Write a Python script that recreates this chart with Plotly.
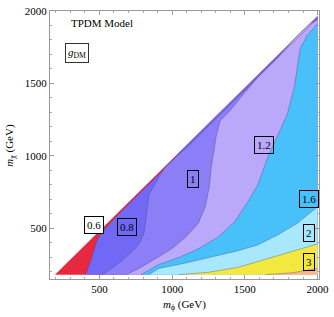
import plotly.graph_objects as go

# ---- data (m_phi, m_chi in GeV) ----
diag_phi = [194, 2000]
diag_chi = [180, 1966]

c06_phi = [405, 440, 466, 487, 510, 568, 700, 850, 1000, 1058]
c06_chi = [180, 277, 365, 426, 462, 530, 666, 815, 965, 1034]

c08_phi = [520, 602, 670, 731, 772, 806, 820, 840, 888, 956, 1100, 1400, 1700, 1900, 2000]
c08_chi = [180, 236, 290, 345, 392, 466, 568, 730, 818, 932, 1056, 1353, 1651, 1852, 1950]

c10_phi = [684, 772, 908, 997, 1092, 1180, 1228, 1255, 1269, 1289, 1303, 1330, 1398, 1473, 1588, 1724, 1861, 1949, 2000]
c10_chi = [180, 223, 304, 358, 439, 534, 649, 784, 919, 1054, 1135, 1243, 1311, 1405, 1541, 1676, 1831, 1912, 1939]

c12_phi = [786, 908, 1044, 1180, 1316, 1432, 1520, 1588, 1656, 1724, 1793, 1840, 1861, 1881, 1929, 2000]
c12_chi = [180, 250, 297, 358, 439, 547, 682, 797, 986, 1135, 1291, 1473, 1628, 1743, 1831, 1912]

c16_phi = [840, 908, 1078, 1248, 1452, 1588, 1724, 1861, 2000]
c16_chi = [180, 223, 257, 297, 345, 385, 453, 534, 649]

c20_phi = [1044, 1248, 1452, 1677, 1861, 2000]
c20_chi = [180, 196, 230, 297, 351, 392]

c30_phi = [1643, 1827, 2000]
c30_chi = [180, 193, 223]

level_labels = ["0.6", "0.8", "1", "1.2", "1.6", "2", "3"]
label_phi = [466, 690, 1146, 1629, 1942, 1942, 1942]
label_chi = [520, 507, 838, 1074, 703, 466, 270]

x_ticks = [500, 1000, 1500, 2000]
y_ticks = [500, 1000, 1500, 2000]

# ---- styles ----
base_color = "rgb(232,40,62)"
region_colors = [
    "rgb(114,104,246)",  # 0.6-0.8
    "rgb(140,126,246)",  # 0.8-1
    "rgb(186,168,250)",  # 1-1.2
    "rgb(72,192,250)",   # 1.2-1.6
    "rgb(168,232,252)",  # 1.6-2
    "rgb(242,232,64)",   # 2-3
    "rgb(246,184,140)",  # >3
]
line_color = "rgba(70,70,110,0.55)"
FONT = "Liberation Serif, Times New Roman, serif"

fig = go.Figure()

fig.add_trace(go.Scatter(
    x=[diag_phi[0], diag_phi[1], diag_phi[1], diag_phi[0]],
    y=[diag_chi[0], diag_chi[1], diag_chi[0], diag_chi[0]],
    fill="toself", fillcolor=base_color, mode="lines",
    line=dict(width=0), hoverinfo="skip", showlegend=False))

curves = [(c06_phi, c06_chi), (c08_phi, c08_chi), (c10_phi, c10_chi),
          (c12_phi, c12_chi), (c16_phi, c16_chi), (c20_phi, c20_chi),
          (c30_phi, c30_chi)]

for (px, py), col in zip(curves, region_colors):
    xs = list(px)
    ys = list(py)
    if xs[-1] < diag_phi[1]:
        xs.append(diag_phi[1])
        ys.append(diag_chi[1])
    xs += [diag_phi[1], xs[0]]
    ys += [diag_chi[0], ys[0]]
    fig.add_trace(go.Scatter(
        x=xs, y=ys, fill="toself", fillcolor=col, mode="lines",
        line=dict(width=0), hoverinfo="skip", showlegend=False))

for px, py in curves:
    fig.add_trace(go.Scatter(
        x=px, y=py, mode="lines", line=dict(color=line_color, width=0.7),
        hoverinfo="skip", showlegend=False))

for i, (t, lx, ly) in enumerate(zip(level_labels, label_phi, label_chi)):
    fig.add_annotation(
        x=lx, y=ly, text=t, showarrow=False,
        font=dict(family=FONT, size=11, color="black"),
        bordercolor="black", borderwidth=1, borderpad=2,
        bgcolor="white" if i == 0 else "rgba(0,0,0,0)")

fig.add_annotation(x=520, y=1919, text="TPDM Model", showarrow=False,
                   font=dict(family=FONT, size=11, color="black"))
fig.add_annotation(x=344, y=1709, text="<i>g</i><sub>DM</sub>", showarrow=False,
                   font=dict(family=FONT, size=11, color="black"),
                   bordercolor="#333333", borderwidth=1, borderpad=2,
                   bgcolor="white")

fig.add_annotation(x=0.5, y=-0.065, xref="paper", yref="paper",
                   text="<i>m</i><sub>ϕ</sub> (GeV)", showarrow=False,
                   xanchor="center", yanchor="top",
                   font=dict(family=FONT, size=11, color="black"))
fig.add_annotation(x=-0.15, y=0.5, xref="paper", yref="paper",
                   text="<i>m</i><sub>χ</sub> (GeV)", showarrow=False,
                   textangle=-90, xanchor="center", yanchor="middle",
                   font=dict(family=FONT, size=11, color="black"))

axis_common = dict(
    showgrid=False, zeroline=False, showline=True, linecolor="#999999",
    linewidth=1, mirror="allticks", ticks="inside", ticklen=4,
    tickcolor="#999999", tickwidth=1, ticklabeloverflow="allow",
    tickfont=dict(family=FONT, size=11, color="black"),
    minor=dict(ticks="inside", ticklen=2, dtick=100, tickcolor="#aaaaaa"),
)

fig.update_xaxes(range=[160, 2010], tickvals=x_ticks,
                 ticktext=[str(v) for v in x_ticks], **axis_common)
fig.update_yaxes(range=[150, 2000], tickvals=y_ticks,
                 ticktext=[str(v) for v in y_ticks], **axis_common)

fig.update_layout(
    width=334, height=317,
    margin=dict(l=50, r=12, t=5, b=38),
    plot_bgcolor="white", paper_bgcolor="white",
    showlegend=False,
)

fig.write_html("out.html", config={"displayModeBar": False, "staticPlot": True},
               post_script="document.body.style.margin='0';document.body.style.overflow='hidden';")
